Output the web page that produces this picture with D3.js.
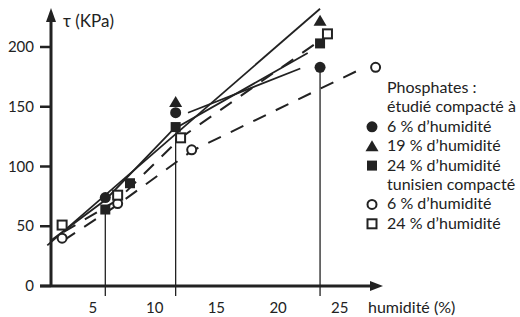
<!DOCTYPE html>
<html>
<head>
<meta charset="utf-8">
<script src="https://cdn.jsdelivr.net/npm/d3@7"></script>
<style>
  body { margin: 0; background: #fff; }
  text { font-family: Lato, "Open Sans", sans-serif; fill: #222; }
</style>
</head>
<body>
<svg id="chart" width="520" height="317"></svg>
<script>
// values: [humidite %, tau KPa]
var yTicks = [0, 50, 100, 150, 200];
var xTicks = [5, 10, 15, 20, 25];
var dropX = [6, 11.7, 23.4];
var dropTop = [64, 124, 183];

var etudie6 = [[6, 74], [11.7, 145], [23.4, 183]];
var etudie19 = [[11.7, 154], [23.4, 222]];
var etudie24 = [[6, 64], [8, 86], [11.7, 133], [23.4, 203]];
var tunisien6 = [[2.5, 40], [7, 69], [13, 114], [27.9, 183]];
var tunisien24 = [[2.5, 51], [7, 76], [12.1, 124], [24, 211]];

// fitted lines
var line19 = [[1.3, 34], [23.4, 232]];
var line24 = [[1.6, 38], [6, 72], [11.5, 131], [22.4, 195]];
var line6 = [[12.7, 145], [21.8, 182]];
var dash24 = [[2.6, 45], [7, 72], [12.1, 124], [23.2, 204]];
var dash6 = [[2.6, 38], [7, 68], [13, 113], [26.6, 181]];

var legendLines = ["Phosphates :", "étudié compacté à", "6 % d\u2019humidité", "19 % d\u2019humidité",
    "24 % d\u2019humidité", "tunisien compacté", "6 % d\u2019humidité", "24 % d\u2019humidité"];
var legendSymbols = [null, null, "circle", "triangle", "square", null, "opencircle", "opensquare"];

var svg = d3.select("#chart");
var ink = "#222";

var x = d3.scaleLinear().domain([1.6, 28.5]).range([51, 383]);
var y = d3.scaleLinear().domain([0, 200]).range([286, 47]);

var line = d3.line()
    .x(function (d) { return x(d[0]); })
    .y(function (d) { return y(d[1]); });

// drop lines
svg.selectAll(".drop")
    .data(dropX)
    .enter().append("line")
    .attr("x1", function (d) { return x(d); })
    .attr("x2", function (d) { return x(d); })
    .attr("y1", function (d, i) { return y(dropTop[i]); })
    .attr("y2", y(0) + 10)
    .attr("stroke", ink)
    .attr("stroke-width", 1.3);

// axes
svg.append("line")
    .attr("x1", 40).attr("x2", x(28.5) - 10)
    .attr("y1", y(0)).attr("y2", y(0))
    .attr("stroke", ink).attr("stroke-width", 3);
svg.append("path")
    .attr("d", "M" + x(28.5) + "," + y(0) + "l-13,-5l0,10z")
    .attr("fill", ink);
svg.append("line")
    .attr("x1", x(1.6)).attr("x2", x(1.6))
    .attr("y1", y(0) + 1).attr("y2", 20)
    .attr("stroke", ink).attr("stroke-width", 3);
svg.append("path")
    .attr("d", "M" + x(1.6) + ",8l-5,14l10,0z")
    .attr("fill", ink);

svg.selectAll(".ytick")
    .data(yTicks)
    .enter().append("line")
    .attr("x1", 40).attr("x2", x(1.6))
    .attr("y1", function (d) { return y(d); })
    .attr("y2", function (d) { return y(d); })
    .attr("stroke", ink).attr("stroke-width", 2.5);

svg.selectAll(".ylab")
    .data(yTicks)
    .enter().append("text")
    .attr("x", 34)
    .attr("y", function (d) { return y(d) + 5; })
    .attr("text-anchor", "end")
    .attr("font-size", "15px")
    .text(function (d) { return d; });

svg.selectAll(".xlab")
    .data(xTicks)
    .enter().append("text")
    .attr("x", function (d) { return x(d); })
    .attr("y", 313)
    .attr("text-anchor", "middle")
    .attr("font-size", "15px")
    .text(function (d) { return d; });

svg.append("text")
    .attr("x", 368).attr("y", 313)
    .attr("font-size", "16px")
    .text("humidité (%)");
svg.append("text")
    .attr("x", 63).attr("y", 27)
    .attr("font-size", "17px")
    .text("\u03C4 (KPa)");

// lines
[line19, line24, line6].forEach(function (pts) {
    svg.append("path")
        .attr("d", line(pts))
        .attr("fill", "none")
        .attr("stroke", ink)
        .attr("stroke-width", 1.8);
});
[dash24, dash6].forEach(function (pts) {
    svg.append("path")
        .attr("d", line(pts))
        .attr("fill", "none")
        .attr("stroke", ink)
        .attr("stroke-width", 2)
        .attr("stroke-dasharray", "14,11");
});

// markers
function drawMarker(g, type, cx, cy) {
    switch (type) {
        case "circle":
            g.append("circle").attr("cx", cx).attr("cy", cy).attr("r", 5.5).attr("fill", ink);
            break;
        case "triangle":
            g.append("path").attr("d", "M" + cx + "," + (cy - 6) + "l6.5,11l-13,0z").attr("fill", ink);
            break;
        case "square":
            g.append("rect").attr("x", cx - 5).attr("y", cy - 5).attr("width", 10).attr("height", 10).attr("fill", ink);
            break;
        case "opencircle":
            g.append("circle").attr("cx", cx).attr("cy", cy).attr("r", 4.5)
                .attr("fill", "#fff").attr("stroke", ink).attr("stroke-width", 2);
            break;
        case "opensquare":
            g.append("rect").attr("x", cx - 4.5).attr("y", cy - 4.5).attr("width", 9).attr("height", 9)
                .attr("fill", "#fff").attr("stroke", ink).attr("stroke-width", 2);
            break;
    }
}

var markerGroup = svg.append("g");
[[tunisien6, "opencircle"], [tunisien24, "opensquare"], [etudie19, "triangle"],
 [etudie6, "circle"], [etudie24, "square"]].forEach(function (s) {
    s[0].forEach(function (d) {
        drawMarker(markerGroup, s[1], x(d[0]), y(d[1]));
    });
});

// legend
var legend = svg.append("g");
legendLines.forEach(function (t, i) {
    var by = 93 + i * 19.4;
    legend.append("text")
        .attr("x", 387).attr("y", by)
        .attr("font-size", "16px")
        .text(t);
    if (legendSymbols[i]) drawMarker(legend, legendSymbols[i], 372, by - 5);
});
</script>
</body>
</html>
